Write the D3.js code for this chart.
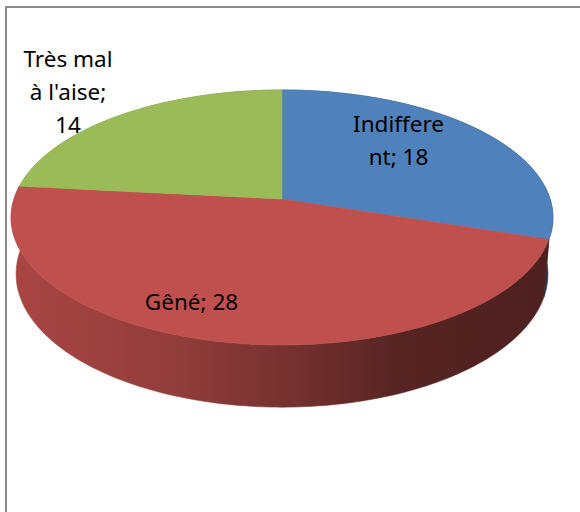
<!DOCTYPE html>
<html>
<head>
<meta charset="utf-8">
<script src="https://cdn.jsdelivr.net/npm/d3@7"></script>
<style>
  html, body { margin: 0; padding: 0; background: #fff; }
  svg { display: block; }
</style>
</head>
<body>
<svg></svg>
<script>
(function () {
  'use strict';

  // data
  var categories = ['Indifferent', 'Gêné', 'Très mal à l\'aise'];
  var values = [18, 28, 14];
  var labelLines = [
    ['Indiffere', 'nt; 18'],
    ['Gêné; 28'],
    ['Très mal', 'à l\'aise;', '14']
  ];
  var colors = ['#4f81bd', '#c0504d', '#9bbb59'];

  var width = 580, height = 512;

  var svg = d3.select('svg')
      .attr('width', width)
      .attr('height', height);

  // chart frame (right and bottom edges run off the picture)
  svg.append('rect')
      .attr('x', 6)
      .attr('y', 7)
      .attr('width', 700)
      .attr('height', 700)
      .attr('fill', 'none')
      .attr('stroke', '#8c8c8c')
      .attr('stroke-width', 2);

  // 3d view: unit circle seen from above with perspective
  var cx = 282, cy = 199;
  var focal = 1635, dist = 6.1;
  var sinA = 0.4657, cosA = 0.885;
  var thick = 0.24;

  function project(theta, y) {
    var X = Math.sin(theta), Z = Math.cos(theta);
    var depth = -y * sinA + Z * cosA;
    var up = y * cosA + Z * sinA;
    return [cx + focal * X / (dist + depth), cy - focal * up / (dist + depth)];
  }
  var centerTop = [cx, cy];

  var pie = d3.pie().sort(null).value(function (d) { return d; });
  var arcs = pie(values);

  function arcPoints(a0, a1, y) {
    var n = Math.max(8, Math.ceil((a1 - a0) / 0.02));
    return d3.range(n + 1).map(function (i) {
      return project(a0 + (a1 - a0) * i / n, y);
    });
  }

  var line = d3.line();

  // side wall shading, lighter on the left
  var defs = svg.append('defs');
  colors.forEach(function (c, i) {
    var base = d3.color(c);
    var g = defs.append('linearGradient')
        .attr('id', 'wall' + i)
        .attr('gradientUnits', 'userSpaceOnUse')
        .attr('x1', 12).attr('y1', 0)
        .attr('x2', 552).attr('y2', 0);
    [[0, 0.88], [0.3, 0.76], [0.5, 0.62], [0.72, 0.45], [1, 0.4]].forEach(function (s) {
      g.append('stop')
          .attr('offset', s[0])
          .attr('stop-color', d3.rgb(base.r * s[1], base.g * s[1], base.b * s[1]).formatHex());
    });
  });

  // walls, far ones first
  var wallOrder = arcs.map(function (d, i) { return i; })
      .sort(function (a, b) {
        var ma = (arcs[a].startAngle + arcs[a].endAngle) / 2;
        var mb = (arcs[b].startAngle + arcs[b].endAngle) / 2;
        return Math.cos(mb) - Math.cos(ma);
      });

  svg.append('g').selectAll('path')
      .data(wallOrder)
      .enter()
      .append('path')
      .attr('d', function (i) {
        var d = arcs[i];
        var top = arcPoints(d.startAngle, d.endAngle, 0);
        var bottom = arcPoints(d.startAngle, d.endAngle, -thick).reverse();
        return line(top.concat(bottom)) + 'Z';
      })
      .attr('fill', function (i) { return 'url(#wall' + i + ')'; })
      .attr('stroke', function (i) { return 'url(#wall' + i + ')'; })
      .attr('stroke-width', 0.6);

  // top faces
  svg.append('g').selectAll('path')
      .data(arcs)
      .enter()
      .append('path')
      .attr('d', function (d) {
        return line([centerTop].concat(arcPoints(d.startAngle, d.endAngle, 0))) + 'Z';
      })
      .attr('fill', function (d, i) { return colors[i]; })
      .attr('stroke', function (d, i) { return colors[i]; })
      .attr('stroke-width', 0.6)
      .attr('stroke-linejoin', 'round');

  // data labels: [centre x, first baseline]
  var labelAnchor = [[398.5, 131.5], [191.5, 310], [68, 67]];
  var lineGap = 33;

  var labels = svg.append('g')
      .style('font-family', '"Noto Sans", sans-serif')
      .style('font-size', '22.5px')
      .attr('fill', '#000')
      .attr('text-anchor', 'middle');

  labels.selectAll('text')
      .data(labelLines)
      .enter()
      .append('text')
      .attr('aria-label', function (d, i) { return categories[i] + '; ' + values[i]; })
      .each(function (d, i) {
        var t = d3.select(this);
        d.forEach(function (s, j) {
          t.append('tspan')
              .attr('x', labelAnchor[i][0])
              .attr('y', labelAnchor[i][1] + j * lineGap)
              .text(s);
        });
      });
}());
</script>
</body>
</html>
